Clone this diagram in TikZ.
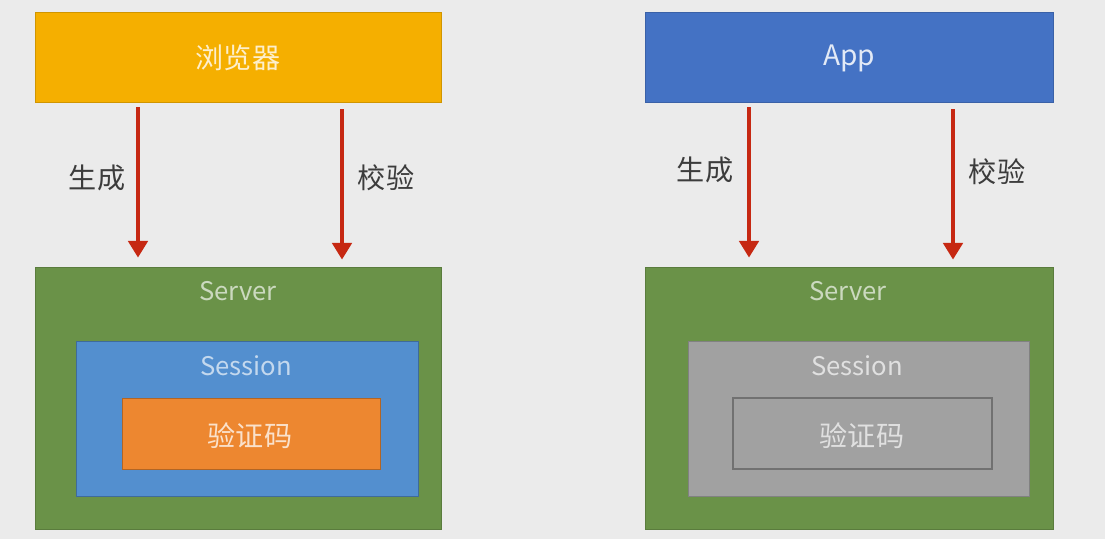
\documentclass[tikz,border=0pt]{standalone}
\usepackage{fontspec}
\setmainfont{Noto Sans CJK SC}
\usetikzlibrary{positioning, arrows.meta}
\definecolor{bggray}{RGB}{235,235,235}
\definecolor{browseryellow}{RGB}{245,175,0}
\definecolor{appblue}{RGB}{68,114,196}
\definecolor{servergreen}{RGB}{106,146,72}
\definecolor{sessionblue}{RGB}{83,143,207}
\definecolor{codeorange}{RGB}{237,135,48}
\definecolor{sessiongray}{RGB}{161,161,161}
\definecolor{arrowred}{RGB}{198,40,18}
\definecolor{labelgray}{RGB}{60,60,60}

\begin{document}
\begin{tikzpicture}[
  x=0.02cm, y=-0.02cm,
  box/.style={draw, line width=0.5pt, inner sep=0pt},
  txt/.style={font=\fontsize{16pt}{19pt}\selectfont, inner sep=0pt},
  word/.style={font=\fontsize{14.6pt}{18pt}\selectfont, inner sep=0pt},
  lbl/.style={txt, text=labelgray},
  flow/.style={-{Triangle[width=11pt, length=9.5pt]}, line width=2.2pt, arrowred}
]
  % background
  \fill[bggray] (0,0) rectangle (1105,539);

  % left: browser
  \node[box, fill=browseryellow, draw=browseryellow!85!black,
        minimum width=8.12cm, minimum height=1.8cm] (browser) at (238,57) {};
  \node[txt, text=browseryellow!20!white] (browsertxt) at (238,58) {浏览器};
  \node[box, fill=servergreen, draw=servergreen!85!black,
        minimum width=8.12cm, minimum height=5.24cm] (server1) at (238,398) {};
  \node[word, text=servergreen!35!white] (server1txt) at (238,291) {Server};
  \node[box, fill=sessionblue, draw=sessionblue!75!black,
        minimum width=6.84cm, minimum height=3.1cm] (session1) at (247,418.5) {};
  \node[word, text=sessionblue!35!white] (session1txt) at (246,366) {Session};
  \node[box, fill=codeorange, draw=codeorange!75!black,
        minimum width=5.16cm, minimum height=1.42cm] (code1) at (251,433.5) {};
  \node[txt, text=codeorange!25!white] (code1txt) at (250,436) {验证码};

  \draw[flow] ([shift={(-100,5)}]browser.south) -- ([shift={(-100,-9)}]server1.north);
  \draw[flow] ([shift={(104,7)}]browser.south) -- ([shift={(104,-7)}]server1.north);
  \node[lbl] (gen1) at (97,178) {生成};
  \node[lbl] (check1) at (386,178) {校验};

  % right: app
  \node[box, fill=appblue, draw=appblue!85!black,
        minimum width=8.16cm, minimum height=1.8cm] (app) at (849,57) {};
  \node[txt, text=appblue!15!white] (apptxt) at (849,58) {App};
  \node[box, fill=servergreen, draw=servergreen!85!black,
        minimum width=8.16cm, minimum height=5.24cm] (server2) at (849,398) {};
  \node[word, text=servergreen!35!white] (server2txt) at (848,291) {Server};
  \node[box, fill=sessiongray, draw=sessiongray!80!black,
        minimum width=6.82cm, minimum height=3.1cm] (session2) at (858.5,418.5) {};
  \node[word, text=white!88!black] (session2txt) at (857,366) {Session};
  \node[box, fill=sessiongray, draw=sessiongray!70!black, line width=0.8pt,
        minimum width=5.18cm, minimum height=1.42cm] (code2) at (862.5,433.5) {};
  \node[txt, text=white!88!black] (code2txt) at (862,436) {验证码};

  \draw[flow] ([shift={(-100,5)}]app.south) -- ([shift={(-100,-9)}]server2.north);
  \draw[flow] ([shift={(104,7)}]app.south) -- ([shift={(104,-7)}]server2.north);
  \node[lbl] (gen2) at (705,170) {生成};
  \node[lbl] (check2) at (997,172) {校验};
\end{tikzpicture}
\end{document}
